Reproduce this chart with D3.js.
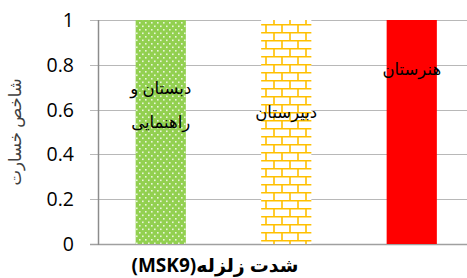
<!DOCTYPE html>
<html>
<head>
<meta charset="utf-8">
<title>شاخص خسارت</title>
<script src="https://cdn.jsdelivr.net/npm/d3@7"></script>
<style>
  body { margin: 0; background: #fff; }
  svg { display: block; font-family: "Open Sans", "DejaVu Sans", sans-serif; }
</style>
</head>
<body>
<script>
    // داده‌ها
    var categories = ["دبستان و راهنمایی", "دبیرستان", "هنرستان"];
    var values = [1, 1, 1];
    var labelLines = [["دبستان و", "راهنمایی"], ["دبیرستان"], ["هنرستان"]];
    var labelValues = [0.615, 0.585, 0.775];
    var yTicks = [0, 0.2, 0.4, 0.6, 0.8, 1];

    var width = 467, height = 278;
    var plotLeft = 98, plotTop = 20, plotBottom = 244;

    var svg = d3.select("body").append("svg")
        .attr("width", width)
        .attr("height", height);

    var defs = svg.append("defs");

    // سبز نقطه‌دار
    var dots = defs.append("pattern")
        .attr("id", "dots")
        .attr("patternUnits", "userSpaceOnUse")
        .attr("width", 6).attr("height", 7);
    dots.append("rect").attr("width", 6).attr("height", 7).attr("fill", "#92d050");
    dots.append("rect").attr("x", 1).attr("y", 1).attr("width", 1.6).attr("height", 1.6).attr("fill", "#e9f5dc");
    dots.append("rect").attr("x", 4).attr("y", 4.5).attr("width", 1.6).attr("height", 1.6).attr("fill", "#e9f5dc");

    // آجری زرد
    var brick = defs.append("pattern")
        .attr("id", "brick")
        .attr("patternUnits", "userSpaceOnUse")
        .attr("width", 16).attr("height", 16);
    brick.append("rect").attr("width", 16).attr("height", 16).attr("fill", "#fff");
    brick.append("path")
        .attr("d", "M0,0.75H16M0,8.75H16M2,0V8M10,8V16")
        .attr("stroke", "#ffc000").attr("stroke-width", 1.6).attr("fill", "none");

    var fills = ["url(#dots)", "url(#brick)", "#ff0000"];

    var x = d3.scaleBand()
        .domain(categories)
        .range([plotLeft, 474.5])
        .paddingInner(0.6)
        .paddingOuter(0.3);

    var y = d3.scaleLinear()
        .domain([0, 1])
        .range([plotBottom, plotTop]);

    // خطوط شبکه
    svg.append("g").selectAll("line")
        .data(yTicks)
        .enter().append("line")
        .attr("x1", plotLeft - 8).attr("x2", width)
        .attr("y1", function(d) { return Math.round(y(d)) + 0.5; })
        .attr("y2", function(d) { return Math.round(y(d)) + 0.5; })
        .attr("stroke", function(d) { return d === 0 ? "#a0a0a0" : "#b8b8b8"; })
        .attr("stroke-width", function(d) { return d === 0 ? 1.5 : 1; });

    // میله‌ها
    svg.append("g").selectAll("rect")
        .data(values)
        .enter().append("rect")
        .attr("x", function(d, i) { return x(categories[i]); })
        .attr("y", function(d) { return y(d); })
        .attr("width", x.bandwidth())
        .attr("height", function(d) { return y(0) - y(d); })
        .attr("fill", function(d, i) { return fills[i]; });

    // محور عمودی
    svg.append("line")
        .attr("x1", plotLeft + 0.5).attr("x2", plotLeft + 0.5)
        .attr("y1", y(1)).attr("y2", y(0) + 1)
        .attr("stroke", "#8c8c8c").attr("stroke-width", 1.5);

    svg.append("g").selectAll("text")
        .data(yTicks)
        .enter().append("text")
        .attr("x", 74)
        .attr("y", function(d) { return y(d); })
        .attr("dy", "0.36em")
        .attr("text-anchor", "end")
        .attr("font-size", 19.5)
        .attr("fill", "#000")
        .text(function(d) { return d3.format("")(d); });

    // برچسب میله‌ها
    labelLines.forEach(function(lines, i) {
        var cx = x(categories[i]) + x.bandwidth() / 2;
        var t = svg.append("text")
            .attr("text-anchor", "middle")
            .attr("font-size", 16.5)
            .attr("fill", "#000");
        var y0 = y(labelValues[i]) - (lines.length - 1) * 17;
        lines.forEach(function(s, j) {
            t.append("tspan")
                .attr("x", cx)
                .attr("y", y0 + j * 34 + 5)
                .text(s);
        });
    });

    // عنوان محورها
    svg.append("text")
        .attr("transform", "translate(21,132) rotate(-90)")
        .attr("text-anchor", "middle")
        .attr("font-size", 16.5)
        .attr("fill", "#404040")
        .text("شاخص خسارت");

    svg.append("text")
        .attr("x", 215).attr("y", 272)
        .attr("text-anchor", "middle")
        .style("direction", "rtl")
        .attr("font-size", 19)
        .attr("font-weight", "bold")
        .attr("fill", "#000")
        .text("شدت زلزله(MSK9)");
</script>
</body>
</html>
